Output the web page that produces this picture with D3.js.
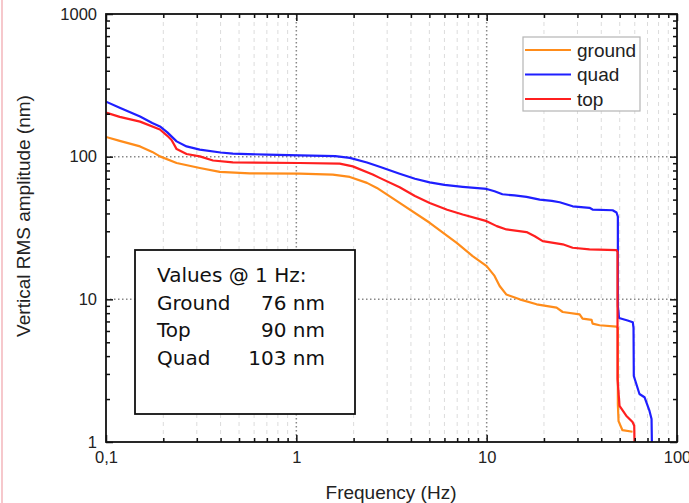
<!DOCTYPE html>
<html>
<head>
<meta charset="utf-8">
<script src="https://cdn.jsdelivr.net/npm/d3@7"></script>
<style>
  body { margin: 0; background: #fff; }
  text { font-family: "Liberation Sans", Arial, sans-serif; fill: #222; }
  .note text { font-family: "Comic Sans MS", "DejaVu Sans", sans-serif; fill: #111; }
</style>
</head>
<body>
<div id="chart"></div>
<script>
// DATA: [frequency Hz, amplitude nm]
const groundData = [[0.1,137.5],[0.118,129],[0.151,118],[0.175,108],[0.192,100.5],[0.235,90.3],[0.311,83.3],
  [0.396,78.2],[0.57,76.4],[1.04,76],[1.555,74.8],[1.91,72.1],[2.35,65.5],[2.65,60.4],[3.49,47.4],
  [5.02,34.4],[6.96,24.9],[8.44,20.1],[10,17.1],[11,14.6],[11.7,12.4],[12.7,10.8],[14.9,10],[18.3,9.23],
  [23.3,8.75],[25.1,8.15],[30.8,7.85],[31.9,7.33],[35.6,7.17],[36,6.76],[39.2,6.58],[48.1,6.44],
  [48.9,6.3],[48.9,1.84],[49.3,1.4],[51.7,1.21],[58.4,1.18]];

const quadData = [[0.1,243],[0.118,220],[0.151,191],[0.175,172],[0.192,163],[0.21,148],[0.235,128],[0.265,118],
  [0.311,112],[0.4,107],[0.464,105],[0.7,103.3],[1.04,102],[1.6,101],[1.91,98],[2.35,91],[2.74,85],
  [3.49,76],[4.2,70],[5.02,66],[6,63.5],[7.48,61.5],[10,59.4],[11,57.2],[12.1,54.5],[14,53.5],[16.2,52.3],
  [19,50],[22,49],[24.2,47.9],[28.3,44.9],[34.7,43.8],[36,42.6],[45.9,42.1],[48.1,40.6],[48.9,38],
  [48.9,9],[49.6,7.4],[55,7.1],[58.6,6.9],[59.1,6.3],[59.3,2.9],[63.5,2.17],[67.5,2.06],[71.7,1.65],
  [73.5,1.45],[73.8,1]];

const topData = [[0.1,204],[0.118,190],[0.151,176],[0.192,155],[0.21,140],[0.221,131],[0.235,113],[0.265,104.4],
  [0.311,100.5],[0.365,94],[0.464,91.2],[1.04,90.3],[1.69,89.3],[1.98,85.5],[2.52,75],[2.74,71],[3.49,61],
  [4.2,53],[5.02,47.4],[6.2,42.5],[7.48,39.3],[10,35.3],[11.3,32.6],[12.7,30.9],[16.2,29.6],[17.9,27.7],
  [19.7,25.6],[25.1,24.3],[28.3,23],[34.7,22.4],[48.1,22.1],[48.7,21.5],[48.7,2.76],[49.9,1.79],
  [54.1,1.53],[58.4,1.38],[59.6,1.3],[59.8,1]];

const seriesNames = ["ground", "quad", "top"];
const seriesColors = ["#ff8c1a", "#1f1fff", "#ff1f1f"];
const xMajor = [0.1, 1, 10, 100];
const xLabels = ["0,1", "1", "10", "100"];
const yMajor = [1, 10, 100, 1000];
const noteLines = [["Values @ 1 Hz:", ""], ["Ground", "76 nm"], ["Top", "90 nm"], ["Quad", "103 nm"]];

// SIZE
const W = 689, H = 503;
const margin = { top: 14, right: 12, bottom: 61, left: 106 };
const width = W - margin.left - margin.right;
const height = H - margin.top - margin.bottom;

const svg = d3.select("#chart").append("svg")
  .attr("width", W).attr("height", H);

// pink slide edge
svg.append("line").attr("x1", 2).attr("x2", 2).attr("y1", 0).attr("y2", H)
  .attr("stroke", "#f6c8cc").attr("stroke-width", 2);

const g = svg.append("g").attr("transform", `translate(${margin.left},${margin.top})`);

const x = d3.scaleLog().domain([0.1, 100]).range([0, width]);
const y = d3.scaleLog().domain([1, 1000]).range([height, 0]);

const minors = (lo, hi) => {
  const out = [];
  for (let d = lo; d < hi; d *= 10) for (let k = 2; k <= 9; k++) out.push(d * k);
  return out;
};
const xMinor = minors(0.1, 100);
const yMinor = minors(1, 1000);

// GRID
g.append("g").selectAll("line").data(xMinor).join("line")
  .attr("x1", d => x(d)).attr("x2", d => x(d)).attr("y1", 0).attr("y2", height)
  .attr("stroke", "#dcdcdc").attr("stroke-width", 1).attr("stroke-dasharray", "4,4");
g.append("g").selectAll("line").data([1, 10]).join("line")
  .attr("x1", d => x(d)).attr("x2", d => x(d)).attr("y1", 0).attr("y2", height)
  .attr("stroke", "#888").attr("stroke-width", 1.5).attr("stroke-dasharray", "1.5,2.5");
g.append("g").selectAll("line").data([10, 100]).join("line")
  .attr("y1", d => y(d)).attr("y2", d => y(d)).attr("x1", 0).attr("x2", width)
  .attr("stroke", "#888").attr("stroke-width", 1.5).attr("stroke-dasharray", "1.5,2.5");

// CURVES
const line = d3.line().x(d => x(d[0])).y(d => y(d[1]));
g.append("clipPath").attr("id", "clip").append("rect").attr("width", width).attr("height", height);
const plot = g.append("g").attr("clip-path", "url(#clip)");
[groundData, quadData, topData].forEach((s, i) => {
  plot.append("path").datum(s).attr("d", line)
    .attr("fill", "none").attr("stroke", seriesColors[i]).attr("stroke-width", 2.2)
    .attr("stroke-linejoin", "round");
});

// AXES (ticks inward on all sides)
function axisPair(axisFn, scale, transform, labels) {
  g.append("g").attr("transform", transform)
    .call(axisFn(scale).tickValues(scale === x ? xMinor : yMinor).tickSize(-4).tickFormat(""))
    .call(a => a.select(".domain").remove());
  const maj = g.append("g").attr("transform", transform)
    .call(axisFn(scale).tickValues(scale === x ? xMajor : yMajor).tickSize(-7).tickPadding(9)
      .tickFormat(labels ? (d, i) => labels[i] : ""))
    .call(a => a.select(".domain").remove());
  maj.selectAll("text").style("font-size", "16.5px").attr("fill", "#222");
  g.selectAll(".tick line").attr("stroke", "#111").attr("stroke-width", 1.5);
}
axisPair(d3.axisBottom, x, `translate(0,${height})`, xLabels);
axisPair(d3.axisTop, x, "translate(0,0)", null);
axisPair(d3.axisLeft, y, "translate(0,0)", yMajor.map(String));
axisPair(d3.axisRight, y, `translate(${width},0)`, null);

g.append("rect").attr("width", width).attr("height", height)
  .attr("fill", "none").attr("stroke", "#111").attr("stroke-width", 1.8);

// AXIS TITLES
svg.append("text").attr("x", 391).attr("y", 499).attr("text-anchor", "middle")
  .style("font-size", "19px").text("Frequency (Hz)");
svg.append("text").attr("transform", "translate(30,216) rotate(-90)").attr("text-anchor", "middle")
  .style("font-size", "19px").text("Vertical RMS amplitude (nm)");

// LEGEND
const leg = svg.append("g");
leg.append("rect").attr("x", 523).attr("y", 37).attr("width", 117).attr("height", 74)
  .attr("fill", "#fff").attr("stroke", "#b5b5b5").attr("stroke-width", 1.2);
seriesNames.forEach((n, i) => {
  const yy = 50 + i * 24.5;
  leg.append("line").attr("x1", 525).attr("x2", 571).attr("y1", yy).attr("y2", yy)
    .attr("stroke", seriesColors[i]).attr("stroke-width", 2.2);
  leg.append("text").attr("x", 577).attr("y", yy + 6.5).style("font-size", "19px").text(n);
});

// NOTE BOX
const note = svg.append("g").attr("class", "note");
note.append("rect").attr("x", 135).attr("y", 250).attr("width", 220).attr("height", 164)
  .attr("fill", "#fff").attr("stroke", "#111").attr("stroke-width", 1.8);
noteLines.forEach((l, i) => {
  const yy = 282 + i * 27.5;
  note.append("text").attr("x", 157).attr("y", yy).style("font-size", "20px").text(l[0]);
  if (l[1]) note.append("text").attr("x", 325).attr("y", yy).attr("text-anchor", "end")
    .style("font-size", "20px").text(l[1]);
});
</script>
</body>
</html>
